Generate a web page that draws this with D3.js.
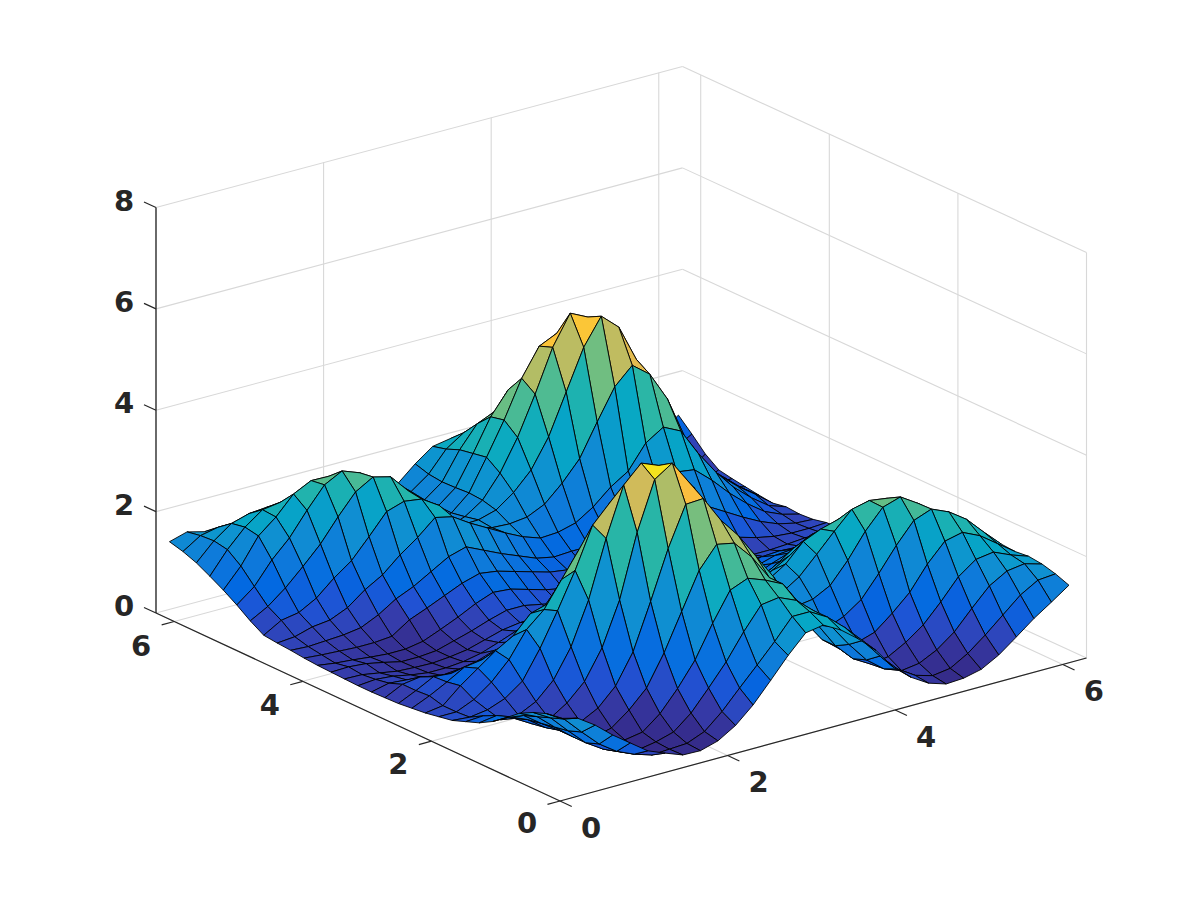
<!DOCTYPE html>
<html><head><meta charset="utf-8">
<script src="https://cdn.jsdelivr.net/npm/d3@7"></script>
<style>html,body{margin:0;background:#fff}svg{display:block}text{font-family:"DejaVu Sans";font-weight:700;font-size:29px;fill:#262626}</style>
</head><body><svg id="c" width="1200" height="900"></svg>
<script>
const xTicks=[0,2,4,6], yTicks=[0,2,4,6], zTicks=[0,2,4,6,8];
const axisMax=6.2832, gridCount=30;
const zRows=[
[1.63,1.54,1.31,1.02,.77,.52,.38,.25,.24,.34,.55,.86,1.25,1.65,2.0,2.06,1.87,1.6,1.28,.85,.56,.35,.24,.26,.34,.53,.79,1.06,1.29,1.53],
[1.6,1.4,1.05,.72,.48,.33,.22,.24,.26,.4,.7,1.07,1.43,1.8,2.2,2.2,2.0,1.7,1.35,.95,.6,.38,.28,.33,.53,.8,1.1,1.4,1.6,1.63],
[1.5,1.3,.95,.62,.4,.25,.2,.26,.36,.64,1.04,1.46,1.96,2.4,2.45,2.3,2.0,1.6,1.15,.75,.48,.35,.4,.57,.83,1.2,1.55,1.75,1.8,1.7],
[1.36,1.2,.9,.62,.4,.25,.27,.33,.6,1.0,1.47,2.1,2.66,2.8,2.67,2.5,2.0,1.5,1.0,.65,.45,.5,.69,.94,1.3,1.7,1.95,2.0,1.85,1.73],
[1.15,1.1,.85,.62,.38,.3,.38,.64,.98,1.58,2.3,3.02,3.44,3.37,3.0,2.5,1.95,1.45,1.0,.72,.75,.86,1.14,1.46,1.92,2.28,2.36,2.2,1.95,1.7],
[.95,.95,.8,.55,.4,.47,.65,.99,1.57,2.47,3.42,4.2,4.22,3.7,3.3,2.8,2.3,1.75,1.3,1.0,1.14,1.38,1.8,2.26,2.66,2.79,2.64,2.4,2.05,1.72],
[.8,.85,.7,.5,.5,.72,1.05,1.62,2.47,3.71,4.66,4.89,4.4,3.85,3.2,2.7,2.2,1.8,1.4,1.45,1.63,2.03,2.51,2.89,3.0,2.78,2.5,2.25,1.95,1.6],
[.7,.72,.55,.55,.72,1.05,1.61,2.44,3.56,4.52,4.86,4.72,4.45,4.1,3.4,2.9,2.3,1.85,1.55,1.77,2.12,2.48,2.82,2.9,2.85,2.65,2.4,2.15,1.85,1.45],
[.6,.57,.62,.75,1.0,1.55,2.2,2.9,3.7,4.06,4.3,4.5,4.0,3.4,2.9,2.3,1.9,1.72,1.68,1.9,2.25,2.4,2.5,2.6,2.6,2.45,2.2,1.95,1.65,1.3],
[.55,.55,.7,.95,1.3,1.8,2.1,2.6,3.1,3.5,3.9,4.0,3.4,2.7,2.2,1.7,1.5,1.45,1.45,1.65,1.85,2.1,2.2,2.3,2.3,2.15,1.95,1.7,1.45,1.15],
[.5,.55,.85,1.1,1.35,1.55,1.9,2.0,2.5,3.0,3.2,3.2,2.6,2.1,1.6,1.2,1.05,1.05,1.15,1.35,1.55,1.78,1.95,1.98,2.0,1.85,1.65,1.45,1.25,1.0],
[.47,.62,.8,1.0,1.05,1.18,1.3,1.55,1.95,2.4,2.5,2.4,1.9,1.45,1.1,.85,.8,.78,.85,1.0,1.2,1.4,1.6,1.7,1.7,1.6,1.42,1.25,1.08,.88],
[.44,.6,.78,.75,.8,.85,.98,1.08,1.4,1.85,1.95,1.7,1.35,1.0,.8,.65,.6,.6,.62,.7,.85,1.0,1.2,1.38,1.42,1.35,1.2,1.07,.93,.78],
[.43,.6,.65,.58,.52,.58,.68,.78,1.0,1.3,1.45,1.2,.95,.75,.62,.55,.5,.5,.55,.62,.72,.85,1.0,1.12,1.18,1.12,1.02,.92,.82,.7],
[.42,.5,.47,.42,.37,.4,.46,.58,.65,.85,1.05,.85,.7,.58,.5,.45,.43,.45,.48,.55,.62,.72,.85,.95,.98,.95,.87,.8,.72,.65],
[.42,.45,.42,.35,.3,.3,.33,.4,.52,.65,.75,.65,.55,.48,.43,.4,.4,.42,.46,.52,.58,.65,.72,.8,.82,.8,.75,.7,.65,.62],
[.43,.42,.36,.3,.28,.27,.3,.35,.45,.55,.6,.6,.55,.5,.45,.42,.42,.45,.5,.55,.6,.62,.62,.6,.58,.6,.6,.6,.6,.6],
[.44,.45,.42,.35,.27,.27,.3,.4,.5,.62,.72,.72,.65,.58,.52,.5,.5,.52,.58,.65,.72,.75,.7,.6,.5,.5,.52,.55,.55,.55],
[.45,.4,.37,.33,.3,.3,.36,.5,.65,.82,.95,.92,.82,.72,.65,.62,.62,.65,.72,.82,.92,.98,.95,.85,.72,.62,.55,.52,.52,.54],
[.47,.44,.42,.4,.4,.43,.66,.8,.95,1.1,1.2,1.15,1.05,.95,.85,.8,.75,.75,.85,.95,1.1,1.25,1.35,1.3,1.1,.9,.72,.58,.5,.48],
[.5,.48,.5,.52,.57,.73,.95,1.1,1.3,1.5,1.6,1.44,1.28,1.14,1.0,.93,.95,.95,1.1,1.3,1.45,1.75,1.95,1.9,1.6,1.25,.95,.7,.55,.46],
[.52,.55,.65,.69,.84,1.1,1.3,1.6,1.85,2.15,2.07,1.85,1.66,1.47,1.3,1.18,1.2,1.29,1.51,1.81,2.03,2.49,2.71,2.54,2.0,1.54,1.15,.85,.6,.48],
[.55,.75,.81,1.0,1.3,1.55,1.93,2.33,2.44,2.39,2.17,1.75,1.55,1.45,1.43,1.47,1.63,1.95,2.34,2.97,3.57,3.9,3.63,3.05,2.2,1.6,1.25,.95,.7,.43],
[.71,.9,1.17,1.5,1.85,2.29,2.69,2.89,2.8,2.43,2.13,1.85,1.47,1.48,1.58,1.83,2.18,2.74,3.53,4.32,4.84,4.53,3.8,3.2,2.3,1.7,1.3,1.0,.7,.46],
[.9,1.17,1.6,1.94,2.39,2.8,2.98,2.85,2.6,2.4,2.05,1.55,1.3,1.42,1.65,2.09,2.7,3.46,4.29,4.87,4.7,4.3,3.6,2.8,2.1,1.55,1.15,.85,.62,.5],
[1.07,1.45,1.95,2.23,2.59,2.76,2.75,2.6,2.3,2.05,1.65,1.25,1.15,1.37,1.67,2.28,2.92,3.65,4.19,4.35,4.2,3.7,2.9,2.15,1.55,1.1,.8,.62,.55,.54],
[1.22,1.65,2.0,2.25,2.3,2.35,2.4,2.25,1.95,1.65,1.3,1.05,1.1,1.38,1.65,2.23,2.86,3.3,3.45,4.0,3.8,3.1,2.1,1.4,.95,.65,.48,.42,.45,.59],
[1.36,1.7,1.95,2.05,2.08,2.05,1.95,1.75,1.5,1.25,1.0,.95,1.1,1.38,1.64,2.18,2.6,2.75,3.1,3.3,2.9,2.1,1.4,.85,.52,.38,.32,.38,.5,.78],
[1.46,1.68,1.75,1.75,1.65,1.5,1.3,1.2,1.0,.85,.75,.85,1.1,1.42,1.67,2.07,2.3,2.4,2.3,2.0,1.45,.95,.55,.4,.3,.3,.4,.6,.85,1.05],
[1.53,1.63,1.54,1.31,1.02,.77,.52,.38,.25,.24,.34,.55,.86,1.45,1.75,2.0,2.06,1.87,1.6,1.28,.85,.56,.35,.24,.26,.34,.53,.79,1.06,1.3]
];
const parulaStops=["#352a87","#353dad","#2053d4","#0268e1","#0d75dc","#108ed2","#06a7c6","#25b5a9","#65be86","#a5be6b","#d9ba56","#fdbe3d","#f4e41d","#f9fb0e"];
const parulaIndex=[0,3,6,9,12,18,24,30,36,42,48,54,60,63];
const colorDomain=[.22,4.9];
const gridStep=axisMax/gridCount;

const c=d3.scaleLinear().domain(parulaIndex.map(k=>colorDomain[0]+(colorDomain[1]-colorDomain[0])*k/63)).range(parulaStops).clamp(true);
const xH=d3.scaleLinear([0,axisMax],[0,526.5]), xV=d3.scaleLinear([0,axisMax],[0,-143]);
const yH=d3.scaleLinear([0,axisMax],[0,-404]), yV=d3.scaleLinear([0,axisMax],[0,-188]);
const zV=d3.scaleLinear([0,8],[0,-405.5]);
const P=(x,y,z)=>[560+xH(x)+yH(y),801+xV(x)+yV(y)+zV(z)];
const Q=(x,y,z)=>{const p=P(x,y,z);return [p[0],p[1]+2*(x/axisMax)*(y/axisMax)];};
const svg=d3.select("#c");
const line=(a,b,col,w)=>svg.append("line").attr("x1",a[0]).attr("y1",a[1]).attr("x2",b[0]).attr("y2",b[1]).attr("stroke",col).attr("stroke-width",w);
const G="#d8d8d8";
const M=axisMax;
zTicks.forEach(z=>{line(Q(0,M,z),Q(M,M,z),G,1.1);line(Q(M,M,z),Q(M,0,z),G,1.1);});
xTicks.forEach(x=>{line(Q(x,M,0),Q(x,M,8),G,1.1);line(Q(x,0,0),Q(x,M,0),G,1.1);});
yTicks.forEach(y=>{line(Q(M,y,0),Q(M,y,8),G,1.1);line(Q(0,y,0),Q(M,y,0),G,1.1);});

const cells=[];
for(let j=gridCount-2;j>=0;j--)for(let i=gridCount-2;i>=0;i--)cells.push([i,j]);
const V=(i,j)=>P(i*gridStep,j*gridStep,zRows[j][i]);
svg.append("g").selectAll("path").data(cells).join("path")
 .attr("d",([i,j])=>"M"+[V(i,j),V(i+1,j),V(i+1,j+1),V(i,j+1)].map(p=>p[0].toFixed(2)+","+p[1].toFixed(2)).join("L")+"Z")
 .attr("fill",([i,j])=>c(zRows[j][i])).attr("stroke","#000").attr("stroke-width",.9).attr("stroke-linejoin","round");

const A="#262626";
line(P(0,0,0),P(M,0,0),A,1.2);line(P(0,0,0),P(0,M,0),A,1.2);line(P(0,M,0),P(0,M,8),A,1.3);
const tl=13;
const xn=[-84,23].map(v=>v/87), yn=[64.3,29.9].map(v=>v/71);
xTicks.forEach(x=>{const a=P(x,0,0);line(a,[a[0]+yn[0]*tl,a[1]+yn[1]*tl],A,1.2);
 svg.append("text").attr("x",a[0]+31).attr("y",a[1]+27).attr("text-anchor","middle").attr("dominant-baseline","central").text(x);});
yTicks.forEach(y=>{const a=P(0,y,0);line(a,[a[0]+xn[0]*tl,a[1]+xn[1]*tl],A,1.2);
 svg.append("text").attr("x",a[0]-33).attr("y",a[1]+22+y*.45).attr("text-anchor","middle").attr("dominant-baseline","central").text(y);});
zTicks.forEach(z=>{const a=P(0,M,z);line(a,[a[0]-12,a[1]-5.5],A,1.2);
 svg.append("text").attr("x",a[0]-32).attr("y",a[1]-7).attr("text-anchor","middle").attr("dominant-baseline","central").text(z);});
</script></body></html>
